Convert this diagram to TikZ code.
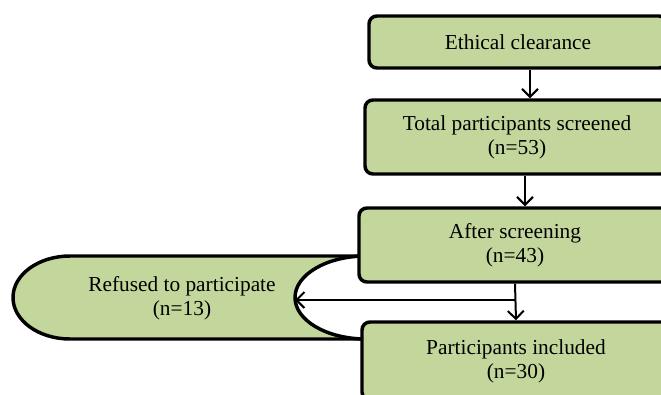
\documentclass[tikz,border=0pt]{standalone}
\usepackage{fontspec}
\setmainfont{Liberation Serif}
\usetikzlibrary{arrows.meta}
\definecolor{boxgreen}{RGB}{195,214,155}
\tikzset{
  flowbox/.style={draw=black, fill=boxgreen, line width=2.6pt, rounded corners=6pt,
    align=center, inner sep=0pt, font=\fontsize{16}{18}\selectfont},
  arr/.style={line width=1.5pt, -{Straight Barb[length=6pt,width=12pt,line width=1.5pt]}},
  lbl/.style={align=center, inner sep=0pt, font=\fontsize{16}{18}\selectfont}
}
\begin{document}
\begin{tikzpicture}[x=0.75pt,y=-0.75pt]
\useasboundingbox (0,0) rectangle (661,394);
\begin{scope}
\clip (0,0) rectangle (661,394);
% refused shape
\fill[boxgreen] (70,256) -- (366,256) arc[start angle=-90,end angle=-270,x radius=71,y radius=41.5]
  -- (70,339) arc[start angle=90,end angle=270,x radius=57,y radius=41.5] -- cycle;
\draw[line width=2.6pt] (366,256) -- (70,256) arc[start angle=-90,end angle=-270,x radius=57,y radius=41.5] -- (366,339);
\draw[line width=2.6pt] (366,256) arc[start angle=-90,end angle=-270,x radius=71,y radius=41.5];
\node[lbl] (refused) at (182,298) {Refused to participate\\(n=13)};
\coordinate (rtip) at (295,300);
% boxes
\node[flowbox, minimum width=298*0.75pt, minimum height=52*0.75pt] (b1) at (518,42) {Ethical clearance};
\node[flowbox, minimum width=304*0.75pt, minimum height=74*0.75pt] (b2) at (517,137) {Total participants screened\\(n=53)};
\node[flowbox, minimum width=312*0.75pt, minimum height=74*0.75pt] (b3) at (515,245) {After screening\\(n=43)};
\node[flowbox, minimum width=308*0.75pt, minimum height=78*0.75pt] (b4) at (516,361) {Participants included\\(n=30)};
\coordinate (xa) at (530,0);
\coordinate (xb) at (525,0);
\draw[arr] (b1.south -| xa) -- (b2.north -| xa);
\draw[arr] (b2.south -| xb) -- (b3.north -| xb);
\draw[arr] (b3.south) -- (b4.north);
\draw[arr] (b3.south |- rtip) -- (rtip);
\end{scope}
\end{tikzpicture}
\end{document}
